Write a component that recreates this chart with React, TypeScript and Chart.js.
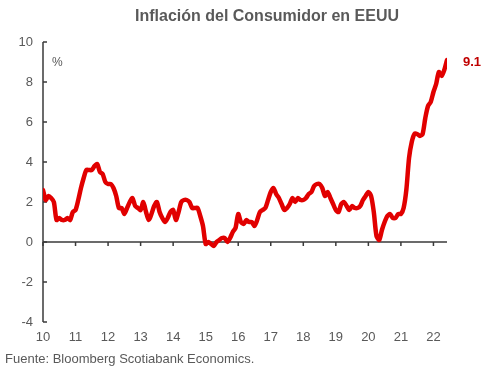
import React, { useEffect, useRef } from "react";
import { Chart, registerables } from "chart.js";

Chart.register(...registerables);

const title = "Inflación del Consumidor en EEUU";
const source = "Fuente: Bloomberg Scotiabank Economics.";
const unitLabel = "%";
const yearLabels = ["10", "11", "12", "13", "14", "15", "16", "17", "18", "19", "20", "21", "22"];
const yMin = -4;
const yMax = 10;
const yStep = 2;

const cpi2010 = [2.6, 2.1, 2.3, 2.2, 2.0, 1.1, 1.2, 1.1, 1.1, 1.2, 1.1, 1.5];
const cpi2011 = [1.6, 2.1, 2.7, 3.2, 3.6, 3.6, 3.6, 3.8, 3.9, 3.5, 3.4, 3.0];
const cpi2012 = [2.9, 2.9, 2.7, 2.3, 1.7, 1.7, 1.4, 1.7, 2.0, 2.2, 1.8, 1.7];
const cpi2013 = [1.6, 2.0, 1.5, 1.1, 1.4, 1.8, 2.0, 1.5, 1.2, 1.0, 1.2, 1.5];
const cpi2014 = [1.6, 1.1, 1.5, 2.0, 2.1, 2.1, 2.0, 1.7, 1.7, 1.7, 1.3, 0.8];
const cpi2015 = [-0.1, 0.0, -0.1, -0.2, 0.0, 0.1, 0.2, 0.2, 0.0, 0.2, 0.5, 0.7];
const cpi2016 = [1.4, 1.0, 0.9, 1.1, 1.0, 1.0, 0.8, 1.1, 1.5, 1.6, 1.7, 2.1];
const cpi2017 = [2.5, 2.7, 2.4, 2.2, 1.9, 1.6, 1.7, 1.9, 2.2, 2.0, 2.2, 2.1];
const cpi2018 = [2.1, 2.2, 2.4, 2.5, 2.8, 2.9, 2.9, 2.7, 2.3, 2.5, 2.2, 1.9];
const cpi2019 = [1.6, 1.5, 1.9, 2.0, 1.8, 1.6, 1.8, 1.7, 1.7, 1.8, 2.1, 2.3];
const cpi2020 = [2.5, 2.3, 1.5, 0.3, 0.1, 0.6, 1.0, 1.3, 1.4, 1.2, 1.2, 1.4];
const cpi2021 = [1.4, 1.7, 2.6, 4.2, 5.0, 5.4, 5.4, 5.3, 5.4, 6.2, 6.8, 7.0];
const cpi2022 = [7.5, 7.9, 8.5, 8.3, 8.6, 9.1];

const inflation = [
  ...cpi2010, ...cpi2011, ...cpi2012, ...cpi2013, ...cpi2014, ...cpi2015, ...cpi2016,
  ...cpi2017, ...cpi2018, ...cpi2019, ...cpi2020, ...cpi2021, ...cpi2022,
];
const lastLabel = "9.1";

const AXIS_COLOR = "#3a3a3a";
const TEXT_COLOR = "#595959";
const LINE_COLOR = "#e10000";
const FONT = "'Liberation Sans', Arial, sans-serif";

const axesPlugin = {
  id: "customAxes",
  beforeDatasetsDraw(chart: any) {
    const { ctx, chartArea, scales } = chart;
    const x = scales.x;
    const y = scales.y;
    ctx.save();
    ctx.strokeStyle = AXIS_COLOR;
    ctx.lineWidth = 1.5;
    // y axis line
    ctx.beginPath();
    ctx.moveTo(chartArea.left, y.getPixelForValue(yMax));
    ctx.lineTo(chartArea.left, y.getPixelForValue(yMin));
    ctx.stroke();
    // y ticks inward
    for (let v = yMin; v <= yMax; v += yStep) {
      const py = y.getPixelForValue(v);
      ctx.beginPath();
      ctx.moveTo(chartArea.left, py);
      ctx.lineTo(chartArea.left + 4, py);
      ctx.stroke();
    }
    // zero line
    const y0 = y.getPixelForValue(0);
    ctx.beginPath();
    ctx.moveTo(chartArea.left, y0);
    ctx.lineTo(chartArea.right, y0);
    ctx.stroke();
    for (let i = 0; i < yearLabels.length; i++) {
      const px = x.getPixelForValue(i);
      ctx.beginPath();
      ctx.moveTo(px, y0);
      ctx.lineTo(px, y0 + 4);
      ctx.stroke();
    }
    ctx.restore();
  },
  afterDraw(chart: any) {
    const { ctx, chartArea, scales } = chart;
    const y = scales.y;
    ctx.save();
    ctx.font = `12px ${FONT}`;
    ctx.fillStyle = TEXT_COLOR;
    ctx.textAlign = "left";
    ctx.textBaseline = "middle";
    ctx.fillText(unitLabel, chartArea.left + 9, y.getPixelForValue(8.95));
    ctx.font = `bold 13px ${FONT}`;
    ctx.fillStyle = "#c00000";
    ctx.fillText(lastLabel, chartArea.right + 16, y.getPixelForValue(inflation[inflation.length - 1]) + 2);
    ctx.restore();
  },
};

export default function App() {
  const ref = useRef<HTMLCanvasElement | null>(null);

  useEffect(() => {
    if (!ref.current) return;
    const points = inflation.map((v, i) => ({ x: i / 12, y: v }));
    const chart = new Chart(ref.current, {
      type: "line",
      data: {
        datasets: [
          {
            data: points,
            borderColor: LINE_COLOR,
            borderWidth: 4.5,
            pointRadius: 0,
            tension: 0.25,
            fill: false,
            borderJoinStyle: "round",
            borderCapStyle: "round",
          },
        ],
      },
      options: {
        responsive: false,
        animation: false,
        layout: { padding: { left: 0, right: 46, top: 42, bottom: 0 } },
        plugins: { legend: { display: false }, tooltip: { enabled: false }, title: { display: false } },
        scales: {
          x: {
            type: "linear",
            min: 0,
            max: (inflation.length - 1) / 12,
            grid: { display: false, drawTicks: false },
            border: { display: false },
            ticks: {
              stepSize: 1,
              includeBounds: false,
              autoSkip: false,
              maxRotation: 0,
              padding: 8,
              color: TEXT_COLOR,
              font: { family: FONT, size: 13 },
              callback: (v: any) => (Number.isInteger(v) && yearLabels[v] !== undefined ? yearLabels[v] : ""),
            },
            afterFit: (s: any) => {
              s.height = 64;
            },
          },
          y: {
            min: yMin,
            max: yMax,
            grid: { display: false, drawTicks: false },
            border: { display: false },
            ticks: {
              stepSize: yStep,
              padding: 10,
              color: TEXT_COLOR,
              font: { family: FONT, size: 13 },
            },
            afterFit: (s: any) => {
              s.width = 43;
            },
          },
        },
      },
      plugins: [axesPlugin],
    });
    return () => chart.destroy();
  }, []);

  return (
    <div style={{ position: "fixed", left: 0, top: 0, width: 493, height: 386, background: "#fff", overflow: "hidden" }}>
      <canvas ref={ref} width={493} height={386} style={{ position: "absolute", left: 0, top: 0 }} />
      <div
        style={{
          position: "absolute",
          left: 0,
          top: 6,
          width: 534,
          textAlign: "center",
          fontFamily: FONT,
          fontWeight: "bold",
          fontSize: 16,
          lineHeight: "20px",
          color: TEXT_COLOR,
        }}
      >
        {title}
      </div>
      <div
        style={{
          position: "absolute",
          left: 5,
          top: 351,
          fontFamily: FONT,
          fontSize: 13,
          lineHeight: "16px",
          color: TEXT_COLOR,
          whiteSpace: "nowrap",
        }}
      >
        {source}
      </div>
    </div>
  );
}
